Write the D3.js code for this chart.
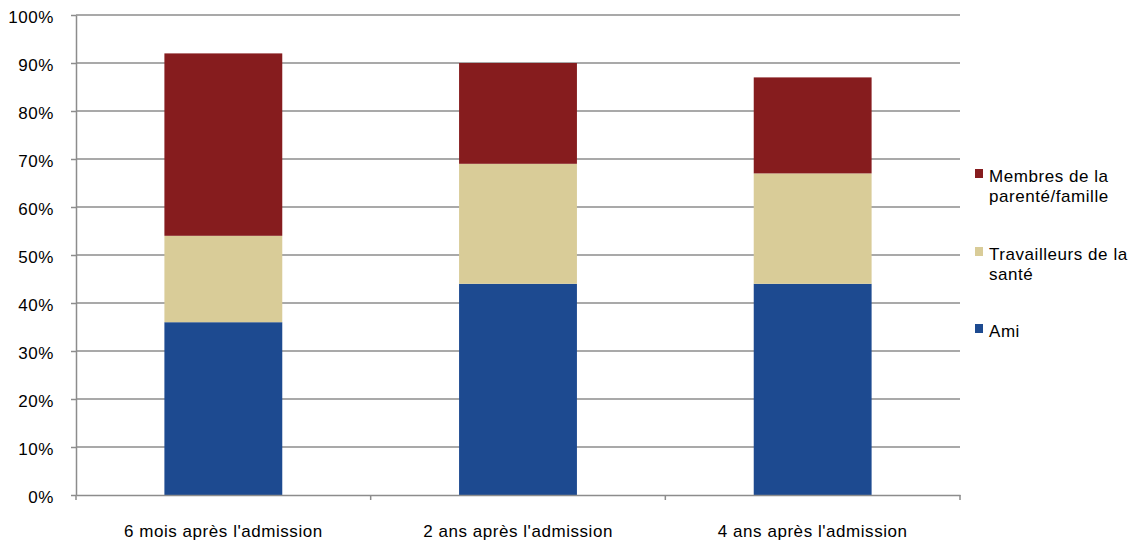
<!DOCTYPE html>
<html><head><meta charset="utf-8">
<script src="https://cdn.jsdelivr.net/npm/d3@7"></script>
<style>body{margin:0;background:#fff}svg{display:block}text{font-family:Arial,"Liberation Sans",sans-serif;fill:#000}</style>
</head><body>
<svg id="c" width="1134" height="541"></svg>
<script>
const categories = ["6 mois après l'admission", "2 ans après l'admission", "4 ans après l'admission"];
const ami = [36, 44, 44];
const travailleurs = [18, 25, 23];
const famille = [38, 21, 20];
const seriesNames = ["Ami", "Travailleurs de la santé", "Membres de la parenté/famille"];
const legendLines = [["Ami"], ["Travailleurs de la", "santé"], ["Membres de la", "parenté/famille"]];
const colors = ["#1D4A90", "#D9CC98", "#861C1E"];
const yTicks = [0,10,20,30,40,50,60,70,80,90,100];

const svg = d3.select("#c");
const mLeft = 76, mRight = 960, mTop = 15, mBottom = 495;
const fs = "17px", ls = "0.55px";
const x = d3.scaleBand().domain(categories).range([mLeft, mRight]).paddingInner(0.6).paddingOuter(0.3);
const xb = d3.scaleBand().domain(categories).range([mLeft, mRight]);
const y = d3.scaleLinear().domain([0, 100]).range([mBottom, mTop]);

const rows = categories.map((c, i) => ({cat: c, s0: ami[i], s1: travailleurs[i], s2: famille[i]}));
const stack = d3.stack().keys(["s0", "s1", "s2"])(rows);

// gridlines
svg.append("g").selectAll("line").data(yTicks.filter(d => d > 0)).join("line")
  .attr("x1", mLeft).attr("x2", mRight).attr("y1", d => y(d)).attr("y2", d => y(d))
  .attr("stroke", "#8c8c8c").attr("stroke-width", 1.5);

// bars
stack.forEach((s, k) => {
  svg.append("g").selectAll("rect").data(s).join("rect")
    .attr("x", d => x(d.data.cat)).attr("width", x.bandwidth())
    .attr("y", d => y(d[1])).attr("height", d => y(d[0]) - y(d[1]))
    .attr("fill", colors[k]);
});

// y axis
const yAxis = svg.append("g").attr("transform", `translate(${mLeft},0)`)
  .call(d3.axisLeft(y).tickValues(yTicks).tickFormat(d => d + "%").tickSize(5).tickSizeOuter(0));
yAxis.select(".domain").attr("stroke", "#8c8c8c").attr("stroke-width", 1.5);
yAxis.selectAll(".tick line").attr("stroke", "#8c8c8c").attr("stroke-width", 1.5);
yAxis.selectAll(".tick text").attr("x", -22).attr("dy", "0.45em")
  .style("font-size", fs).style("letter-spacing", ls).attr("fill", "#000");

// x axis
const xAxis = svg.append("g").attr("transform", `translate(0,${mBottom})`)
  .call(d3.axisBottom(xb).tickSize(0).tickSizeOuter(0));
xAxis.select(".domain").attr("stroke", "#8c8c8c").attr("stroke-width", 1.5);
xAxis.selectAll(".tick text").attr("y", 42).attr("dy", 0)
  .style("font-size", fs).style("letter-spacing", ls).attr("fill", "#000");
// category boundary ticks
const bounds = categories.map(c => xb(c)).concat([mRight]);
svg.append("g").selectAll("line").data(bounds).join("line")
  .attr("x1", d => d).attr("x2", d => d).attr("y1", mBottom).attr("y2", mBottom + 5)
  .attr("stroke", "#8c8c8c").attr("stroke-width", 1.5);

// legend (reverse order)
const legendY = [176, 254, 331];
const lg = svg.append("g");
[2, 1, 0].forEach((k, j) => {
  const g = lg.append("g").attr("transform", `translate(975,${legendY[j]})`);
  g.append("rect").attr("x", 0).attr("y", -7).attr("width", 8).attr("height", 9).attr("fill", colors[k]);
  const t = g.append("text").attr("x", 14).attr("y", 6).style("font-size", fs).style("letter-spacing", ls);
  legendLines[k].forEach((ln, i) => t.append("tspan").attr("x", 14).attr("dy", i === 0 ? 0 : 20).text(ln));
});
</script>
</body></html>
